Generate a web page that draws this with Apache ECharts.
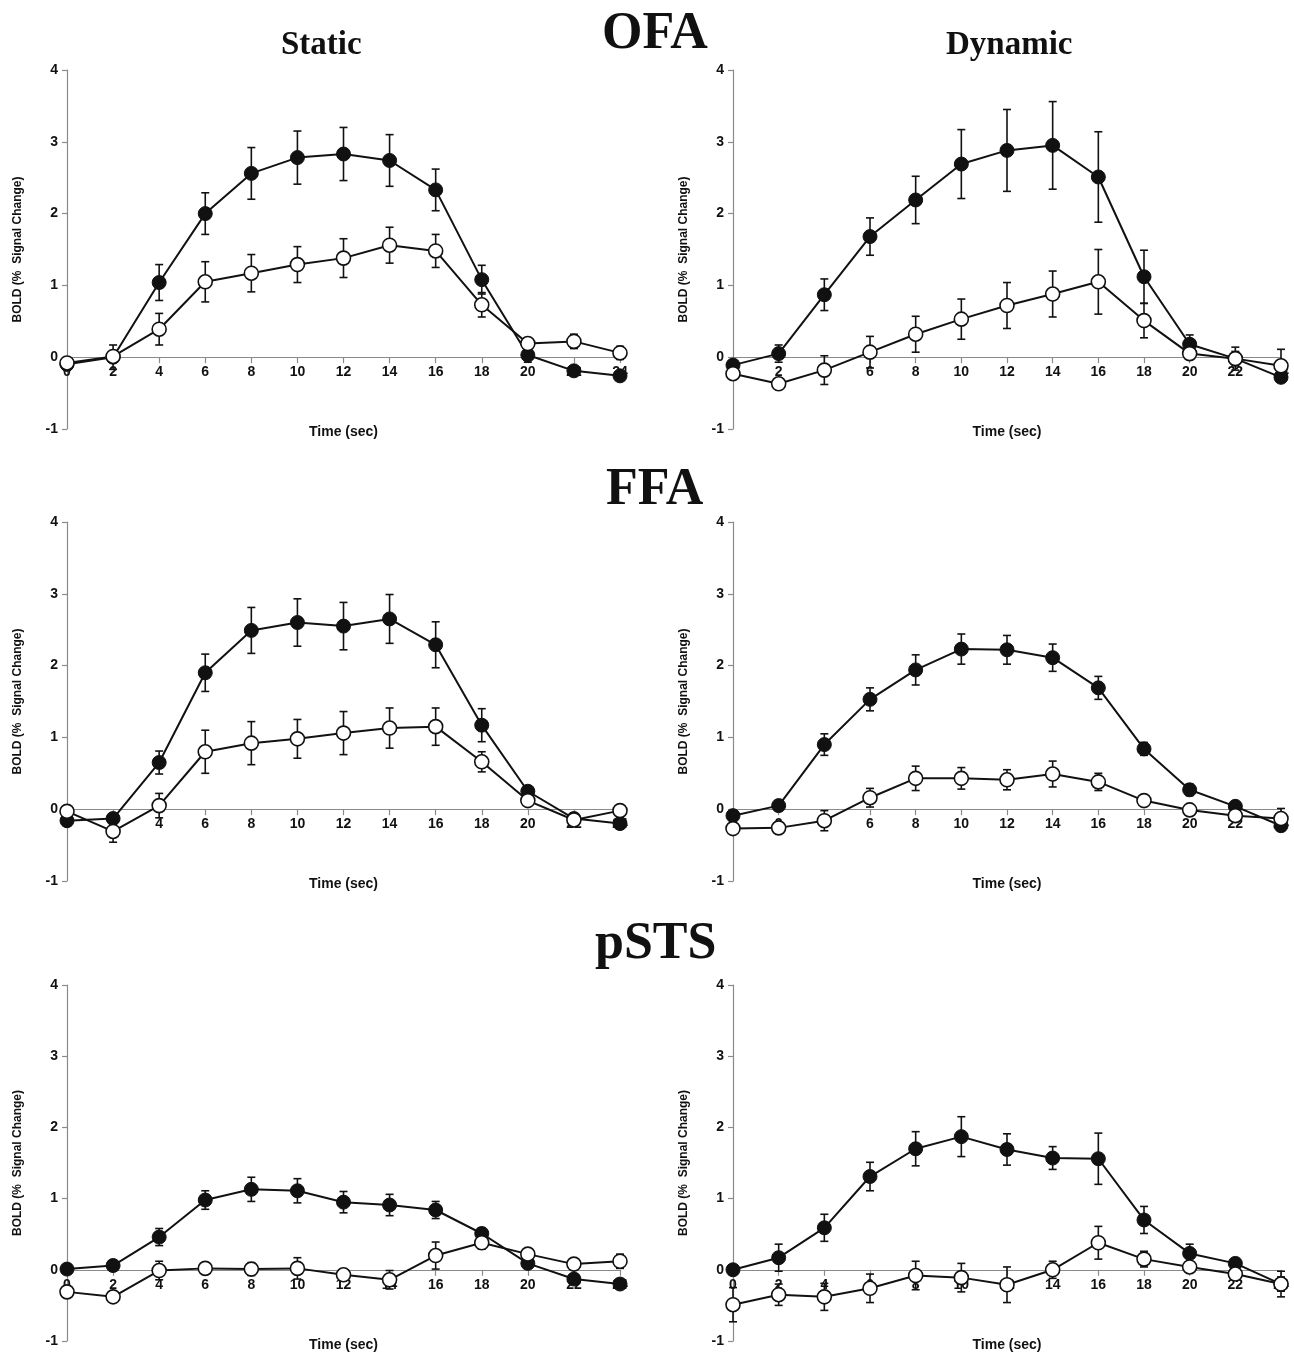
<!DOCTYPE html>
<html>
<head>
<meta charset="utf-8">
<script src="https://cdn.jsdelivr.net/npm/echarts@6/dist/echarts.min.js"></script>
<style>html,body{margin:0;padding:0;background:#fff}#c{width:1294px;height:1359px}</style>
</head>
<body>
<div id="c"></div>
<script>
const times = [0,2,4,6,8,10,12,14,16,18,20,22,24];
const yTicks = [-1,0,1,2,3,4];

const ofaStaticFilled    = [-0.1, 0.0, 1.04, 2.0, 2.56, 2.78, 2.83, 2.74, 2.33, 1.08, 0.03, -0.19, -0.26];
const ofaStaticFilledErr = [0.08, 0.17, 0.25, 0.29, 0.36, 0.37, 0.37, 0.36, 0.29, 0.2, 0.1, 0.05, 0.05];
const ofaStaticOpen      = [-0.08, 0.01, 0.39, 1.05, 1.17, 1.29, 1.38, 1.56, 1.48, 0.73, 0.19, 0.22, 0.06];
const ofaStaticOpenErr   = [0.05, 0.08, 0.22, 0.28, 0.26, 0.25, 0.27, 0.25, 0.23, 0.17, 0.08, 0.1, 0.09];

const ofaDynFilled    = [-0.11, 0.05, 0.87, 1.68, 2.19, 2.69, 2.88, 2.95, 2.51, 1.12, 0.18, -0.02, -0.28];
const ofaDynFilledErr = [0.05, 0.12, 0.22, 0.26, 0.33, 0.48, 0.57, 0.61, 0.63, 0.37, 0.13, 0.16, 0.05];
const ofaDynOpen      = [-0.23, -0.37, -0.18, 0.07, 0.32, 0.53, 0.72, 0.88, 1.05, 0.51, 0.05, -0.02, -0.12];
const ofaDynOpenErr   = [0.05, 0.05, 0.2, 0.22, 0.25, 0.28, 0.32, 0.32, 0.45, 0.24, 0.07, 0.1, 0.23];

const ffaStaticFilled    = [-0.16, -0.13, 0.65, 1.9, 2.49, 2.6, 2.55, 2.65, 2.29, 1.17, 0.25, -0.13, -0.2];
const ffaStaticFilledErr = [0.05, 0.05, 0.16, 0.26, 0.32, 0.33, 0.33, 0.34, 0.32, 0.23, 0.07, 0.05, 0.04];
const ffaStaticOpen      = [-0.03, -0.31, 0.05, 0.8, 0.92, 0.98, 1.06, 1.13, 1.15, 0.66, 0.12, -0.15, -0.02];
const ffaStaticOpenErr   = [0.07, 0.15, 0.17, 0.3, 0.3, 0.27, 0.3, 0.28, 0.26, 0.14, 0.05, 0.05, 0.04];

const ffaDynFilled    = [-0.09, 0.05, 0.9, 1.53, 1.94, 2.23, 2.22, 2.11, 1.69, 0.84, 0.27, 0.04, -0.23];
const ffaDynFilledErr = [0.04, 0.07, 0.15, 0.16, 0.21, 0.21, 0.2, 0.19, 0.16, 0.09, 0.08, 0.05, 0.05];
const ffaDynOpen      = [-0.27, -0.26, -0.16, 0.16, 0.43, 0.43, 0.41, 0.49, 0.38, 0.12, -0.01, -0.09, -0.13];
const ffaDynOpenErr   = [0.04, 0.05, 0.14, 0.13, 0.17, 0.15, 0.14, 0.18, 0.12, 0.08, 0.07, 0.07, 0.14];

const pstsStaticFilled    = [0.01, 0.06, 0.46, 0.98, 1.13, 1.11, 0.95, 0.91, 0.84, 0.51, 0.09, -0.13, -0.2];
const pstsStaticFilledErr = [0.03, 0.07, 0.12, 0.13, 0.17, 0.17, 0.15, 0.15, 0.12, 0.08, 0.05, 0.04, 0.03];
const pstsStaticOpen      = [-0.31, -0.38, -0.01, 0.02, 0.01, 0.02, -0.07, -0.14, 0.2, 0.38, 0.22, 0.08, 0.12];
const pstsStaticOpenErr   = [0.04, 0.05, 0.13, 0.05, 0.09, 0.15, 0.07, 0.13, 0.19, 0.09, 0.07, 0.05, 0.1];

const pstsDynFilled    = [0.0, 0.17, 0.59, 1.31, 1.7, 1.87, 1.69, 1.57, 1.56, 0.7, 0.23, 0.09, -0.2];
const pstsDynFilledErr = [0.03, 0.19, 0.19, 0.2, 0.24, 0.28, 0.22, 0.16, 0.36, 0.19, 0.13, 0.07, 0.1];
const pstsDynOpen      = [-0.49, -0.35, -0.38, -0.26, -0.08, -0.11, -0.21, 0.0, 0.38, 0.15, 0.04, -0.06, -0.2];
const pstsDynOpenErr   = [0.24, 0.15, 0.19, 0.2, 0.2, 0.2, 0.25, 0.12, 0.23, 0.11, 0.07, 0.07, 0.18];

const regionTitles = ['OFA', 'FFA', 'pSTS'];
const columnTitles = ['Static', 'Dynamic'];

const panels = [
  {filled: ofaStaticFilled, fErr: ofaStaticFilledErr, open: ofaStaticOpen, oErr: ofaStaticOpenErr},
  {filled: ofaDynFilled, fErr: ofaDynFilledErr, open: ofaDynOpen, oErr: ofaDynOpenErr},
  {filled: ffaStaticFilled, fErr: ffaStaticFilledErr, open: ffaStaticOpen, oErr: ffaStaticOpenErr},
  {filled: ffaDynFilled, fErr: ffaDynFilledErr, open: ffaDynOpen, oErr: ffaDynOpenErr},
  {filled: pstsStaticFilled, fErr: pstsStaticFilledErr, open: pstsStaticOpen, oErr: pstsStaticOpenErr},
  {filled: pstsDynFilled, fErr: pstsDynFilledErr, open: pstsDynOpen, oErr: pstsDynOpenErr}
];

const rowTop = [70, 522, 985];
const rowHeight = [359, 359, 356];
const colLeft = [67, 733];
const colWidth = [553, 548];

const sans = 'Liberation Sans, Arial, sans-serif';
const serif = 'Liberation Serif, Times New Roman, serif';
const axisGray = '#8a8a8a';

const grids = [], xAxes = [], yAxes = [], series = [];

function errRender(params, api) {
  const x = api.value(0), lo = api.value(1), hi = api.value(2);
  const pLo = api.coord([x, lo]);
  const pHi = api.coord([x, hi]);
  const cw = 4;
  const st = {stroke: '#111', lineWidth: 1.6};
  return {
    type: 'group',
    children: [
      {type: 'line', shape: {x1: pLo[0], y1: pLo[1], x2: pHi[0], y2: pHi[1]}, style: st},
      {type: 'line', shape: {x1: pHi[0]-cw, y1: pHi[1], x2: pHi[0]+cw, y2: pHi[1]}, style: st},
      {type: 'line', shape: {x1: pLo[0]-cw, y1: pLo[1], x2: pLo[0]+cw, y2: pLo[1]}, style: st}
    ]
  };
}

const yMin = yTicks[0], yMax = yTicks[yTicks.length - 1];

panels.forEach((p, i) => {
  const r = Math.floor(i / 2), c = i % 2;
  grids.push({left: colLeft[c], top: rowTop[r], width: colWidth[c], height: rowHeight[r]});
  // place the time axis on the zero line (axis line, ticks and labels together)
  const zeroOffset = -rowHeight[r] * (0 - yMin) / (yMax - yMin);
  xAxes.push({
    type: 'value', gridIndex: i, min: 0, max: 24, interval: 2,
    position: 'bottom', offset: zeroOffset,
    axisLine: {onZero: false, lineStyle: {color: axisGray, width: 1.2}},
    axisTick: {show: true, inside: false, length: 6, lineStyle: {color: axisGray, width: 1.2}},
    axisLabel: {margin: 8, color: '#111', fontFamily: sans, fontWeight: 'bold', fontSize: 14},
    splitLine: {show: false},
    name: 'Time (sec)', nameLocation: 'middle', nameGap: 68,
    nameTextStyle: {color: '#111', fontFamily: sans, fontWeight: 'bold', fontSize: 14}
  });
  yAxes.push({
    type: 'value', gridIndex: i, min: yMin, max: yMax, interval: 1,
    axisLine: {show: true, lineStyle: {color: axisGray, width: 1.2}},
    axisTick: {show: true, length: 5, lineStyle: {color: axisGray, width: 1.2}},
    axisLabel: {margin: 9, color: '#111', fontFamily: sans, fontWeight: 'bold', fontSize: 14},
    splitLine: {show: false},
    name: 'BOLD (%  Signal Change)', nameLocation: 'middle', nameGap: 43, nameRotate: 90,
    nameTextStyle: {color: '#111', fontFamily: sans, fontWeight: 'bold', fontSize: 12}
  });
  const errF = times.map((t, k) => [t, p.filled[k] - p.fErr[k], p.filled[k] + p.fErr[k]]);
  const errO = times.map((t, k) => [t, p.open[k] - p.oErr[k], p.open[k] + p.oErr[k]]);
  series.push({type: 'custom', xAxisIndex: i, yAxisIndex: i, renderItem: errRender, data: errF, z: 2, silent: true});
  series.push({type: 'custom', xAxisIndex: i, yAxisIndex: i, renderItem: errRender, data: errO, z: 2, silent: true});
  series.push({
    type: 'line', xAxisIndex: i, yAxisIndex: i, z: 3,
    data: times.map((t, k) => [t, p.filled[k]]),
    symbol: 'circle', symbolSize: 14,
    lineStyle: {color: '#111', width: 2},
    itemStyle: {color: '#111', borderColor: '#111', borderWidth: 1}
  });
  series.push({
    type: 'line', xAxisIndex: i, yAxisIndex: i, z: 4,
    data: times.map((t, k) => [t, p.open[k]]),
    symbol: 'circle', symbolSize: 14,
    lineStyle: {color: '#111', width: 2},
    itemStyle: {color: '#fff', borderColor: '#111', borderWidth: 1.6}
  });
});

const bigTitle = {fontFamily: serif, fontWeight: 'bold', fontSize: 52, color: '#111'};
const colTitle = {fontFamily: serif, fontWeight: 'bold', fontSize: 33, color: '#111'};
const titles = [
  {text: regionTitles[0], left: 597, top: 4, textStyle: bigTitle},
  {text: columnTitles[0], left: 276, top: 24, textStyle: colTitle},
  {text: columnTitles[1], left: 941, top: 24, textStyle: colTitle},
  {text: regionTitles[1], left: 601, top: 460, textStyle: bigTitle},
  {text: regionTitles[2], left: 590, top: 914, textStyle: bigTitle}
];

const chart = echarts.init(document.getElementById('c'), null, {renderer: 'canvas'});
chart.setOption({
  backgroundColor: '#fff',
  animation: false,
  title: titles,
  grid: grids,
  xAxis: xAxes,
  yAxis: yAxes,
  series: series
});
</script>
</body>
</html>
